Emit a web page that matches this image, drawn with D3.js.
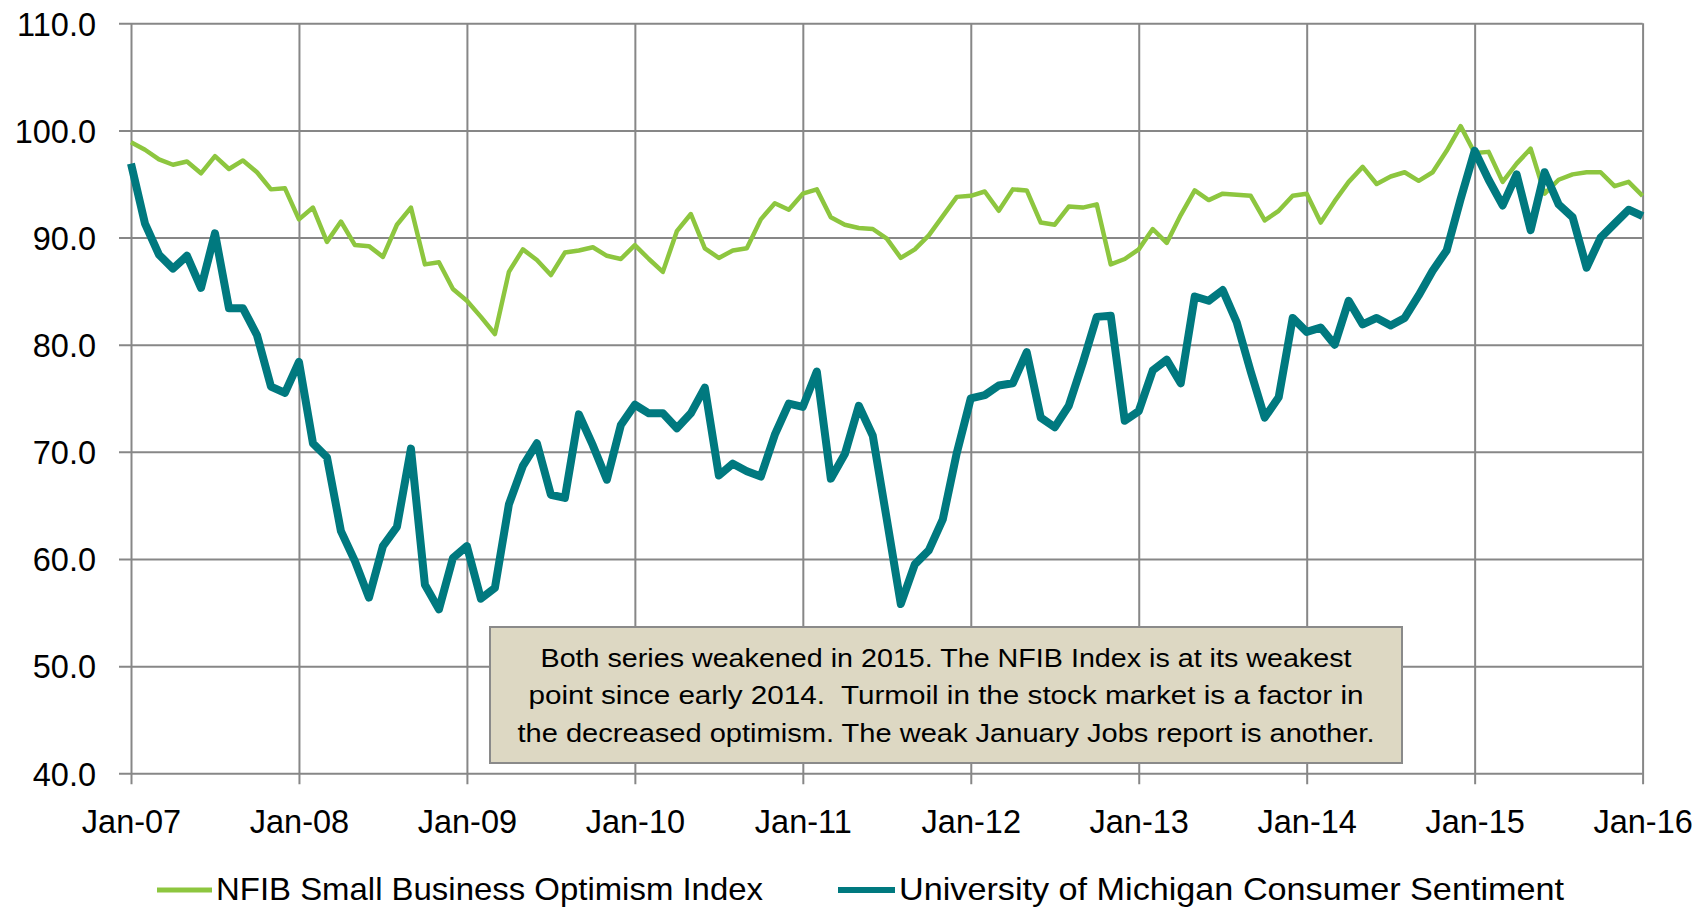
<!DOCTYPE html>
<html>
<head>
<meta charset="utf-8">
<script src="https://cdn.jsdelivr.net/npm/d3@7"></script>
<style>
  html, body { margin: 0; padding: 0; background: #fff; }
  svg { display: block; font-family: "Liberation Sans", Arial, sans-serif; }
</style>
</head>
<body>
<svg id="chart" width="1707" height="908"></svg>
<script>
// ---------- DATA ----------
const startYear = 2007; // monthly from Jan-07 to Jan-16
const nfib = [
  98.9, 98.2, 97.3, 96.8, 97.1, 96.0, 97.6, 96.4, 97.2, 96.1, 94.5, 94.6,
  91.7, 92.8, 89.6, 91.5, 89.3, 89.2, 88.2, 91.2, 92.8, 87.5, 87.7, 85.2,
  84.1, 82.6, 81.0, 86.8, 88.9, 87.9, 86.5, 88.6, 88.8, 89.1, 88.3, 88.0,
  89.3, 88.0, 86.8, 90.6, 92.2, 89.0, 88.1, 88.8, 89.0, 91.7, 93.2, 92.6,
  94.1, 94.5, 91.9, 91.2, 90.9, 90.8, 89.9, 88.1, 88.9, 90.2, 92.0, 93.8,
  93.9, 94.3, 92.5, 94.5, 94.4, 91.4, 91.2, 92.9, 92.8, 93.1, 87.5, 88.0,
  88.9, 90.8, 89.5, 92.1, 94.4, 93.5, 94.1, 94.0, 93.9, 91.6, 92.5, 93.9,
  94.1, 91.4, 93.4, 95.2, 96.6, 95.0, 95.7, 96.1, 95.3, 96.1, 98.1, 100.4,
  97.9, 98.0, 95.2, 96.9, 98.3, 94.1, 95.4, 95.9, 96.1, 96.1, 94.8, 95.2,
  93.9
];
const umich = [
  96.9, 91.3, 88.4, 87.1, 88.3, 85.3, 90.4, 83.4, 83.4, 80.9, 76.1, 75.5,
  78.4, 70.8, 69.5, 62.6, 59.8, 56.4, 61.2, 63.0, 70.3, 57.6, 55.3, 60.1,
  61.2, 56.3, 57.3, 65.1, 68.7, 70.8, 66.0, 65.7, 73.5, 70.6, 67.4, 72.5,
  74.4, 73.6, 73.6, 72.2, 73.6, 76.0, 67.8, 68.9, 68.2, 67.7, 71.6, 74.5,
  74.2, 77.5, 67.5, 69.8, 74.3, 71.5, 63.7, 55.8, 59.5, 60.8, 63.7, 69.9,
  75.0, 75.3, 76.2, 76.4, 79.3, 73.2, 72.3, 74.3, 78.3, 82.6, 82.7, 72.9,
  73.8, 77.6, 78.6, 76.4, 84.5, 84.1, 85.1, 82.1, 77.5, 73.2, 75.1, 82.5,
  81.2, 81.6, 80.0, 84.1, 81.9, 82.5, 81.8, 82.5, 84.6, 86.9, 88.8, 93.6,
  98.1, 95.4, 93.0, 95.9, 90.7, 96.1, 93.1, 91.9, 87.2, 90.0, 91.3, 92.6,
  92.0
];
const xTickLabels = ["Jan-07","Jan-08","Jan-09","Jan-10","Jan-11","Jan-12","Jan-13","Jan-14","Jan-15","Jan-16"];
const yTicks = [40, 50, 60, 70, 80, 90, 100, 110];
const seriesNames = ["NFIB Small Business Optimism Index", "University of Michigan Consumer Sentiment"];
const noteLines = [
  "Both series weakened in 2015. The NFIB Index is at its weakest",
  "point since early 2014.\u00A0 Turmoil in the stock market is a factor in",
  "the decreased optimism. The weak January Jobs report is another."
];

// ---------- LAYOUT ----------
const svg = d3.select("#chart");
const plotL = 131, plotR = 1642.6, plotT = 23.3, plotB = 773.3;
const gridColor = "#878787";
const green = "#8DC63F", teal = "#00797F";

const x = d3.scaleLinear().domain([0, nfib.length - 1]).range([plotL, plotR]);
const y = d3.scaleLinear().domain([40, 110]).range([plotB, plotT]);

// horizontal gridlines + y ticks/labels
const yAxis = d3.axisLeft(y).tickValues(yTicks).tickSize(0).tickSizeOuter(0)
  .tickFormat(d => d.toFixed(1));
const gy = svg.append("g").attr("transform", `translate(${plotL},0)`).call(yAxis);
gy.select(".domain").remove();
gy.selectAll(".tick line").attr("stroke", gridColor).attr("stroke-width", 2)
  .attr("x1", -12).attr("x2", plotR - plotL);
gy.selectAll(".tick text").attr("font-size", 32.5).attr("fill", "#000")
  .attr("font-family", "Liberation Sans, Arial, sans-serif").attr("x", -35)
  .attr("dy", "0.36em");

// vertical gridlines + x ticks/labels
const xYearIdx = xTickLabels.map((d, i) => i * 12);
const xAxis = d3.axisBottom(x).tickValues(xYearIdx).tickSize(0)
  .tickFormat((d, i) => xTickLabels[i]);
const gx = svg.append("g").attr("transform", `translate(0,${plotB})`).call(xAxis);
gx.select(".domain").remove();
gx.selectAll(".tick line").attr("stroke", gridColor).attr("stroke-width", 2)
  .attr("y1", -(plotB - plotT)).attr("y2", 11);
gx.selectAll(".tick text").attr("font-size", 32.5).attr("fill", "#000")
  .attr("font-family", "Liberation Sans, Arial, sans-serif")
  .attr("dy", null).attr("y", 60);

// ---------- LINES ----------
const line = d3.line().x((d, i) => x(i)).y(d => y(d));
svg.append("path").datum(nfib).attr("d", line).attr("fill", "none")
  .attr("stroke", green).attr("stroke-width", 4.5).attr("stroke-linejoin", "round");
svg.append("path").datum(umich).attr("d", line).attr("fill", "none")
  .attr("stroke", teal).attr("stroke-width", 8).attr("stroke-linejoin", "round");

// ---------- ANNOTATION ----------
const box = svg.append("g");
box.append("rect").attr("x", 490).attr("y", 627).attr("width", 912).attr("height", 136)
  .attr("fill", "#DDD8C3").attr("stroke", "#8A8A8A").attr("stroke-width", 2);
const noteWidths = [811, 835, 857];
noteLines.forEach((t, i) => {
  box.append("text").attr("x", 946).attr("y", 666.5 + i * 37.5)
    .attr("text-anchor", "middle").attr("font-size", 26.5).attr("fill", "#000")
    .attr("textLength", noteWidths[i]).attr("lengthAdjust", "spacingAndGlyphs")
    .text(t);
});

// ---------- LEGEND ----------
const legend = [
  { name: seriesNames[0], color: green, w: 5, x0: 157, x1: 212, tx: 216, tl: 547 },
  { name: seriesNames[1], color: teal, w: 6, x0: 838, x1: 895, tx: 899, tl: 665 }
];
legend.forEach(l => {
  svg.append("line").attr("x1", l.x0).attr("x2", l.x1).attr("y1", 890).attr("y2", 890)
    .attr("stroke", l.color).attr("stroke-width", l.w);
  svg.append("text").attr("x", l.tx).attr("y", 900).attr("font-size", 30.5).attr("fill", "#000")
    .attr("textLength", l.tl).attr("lengthAdjust", "spacingAndGlyphs").text(l.name);
});
</script>
</body>
</html>
